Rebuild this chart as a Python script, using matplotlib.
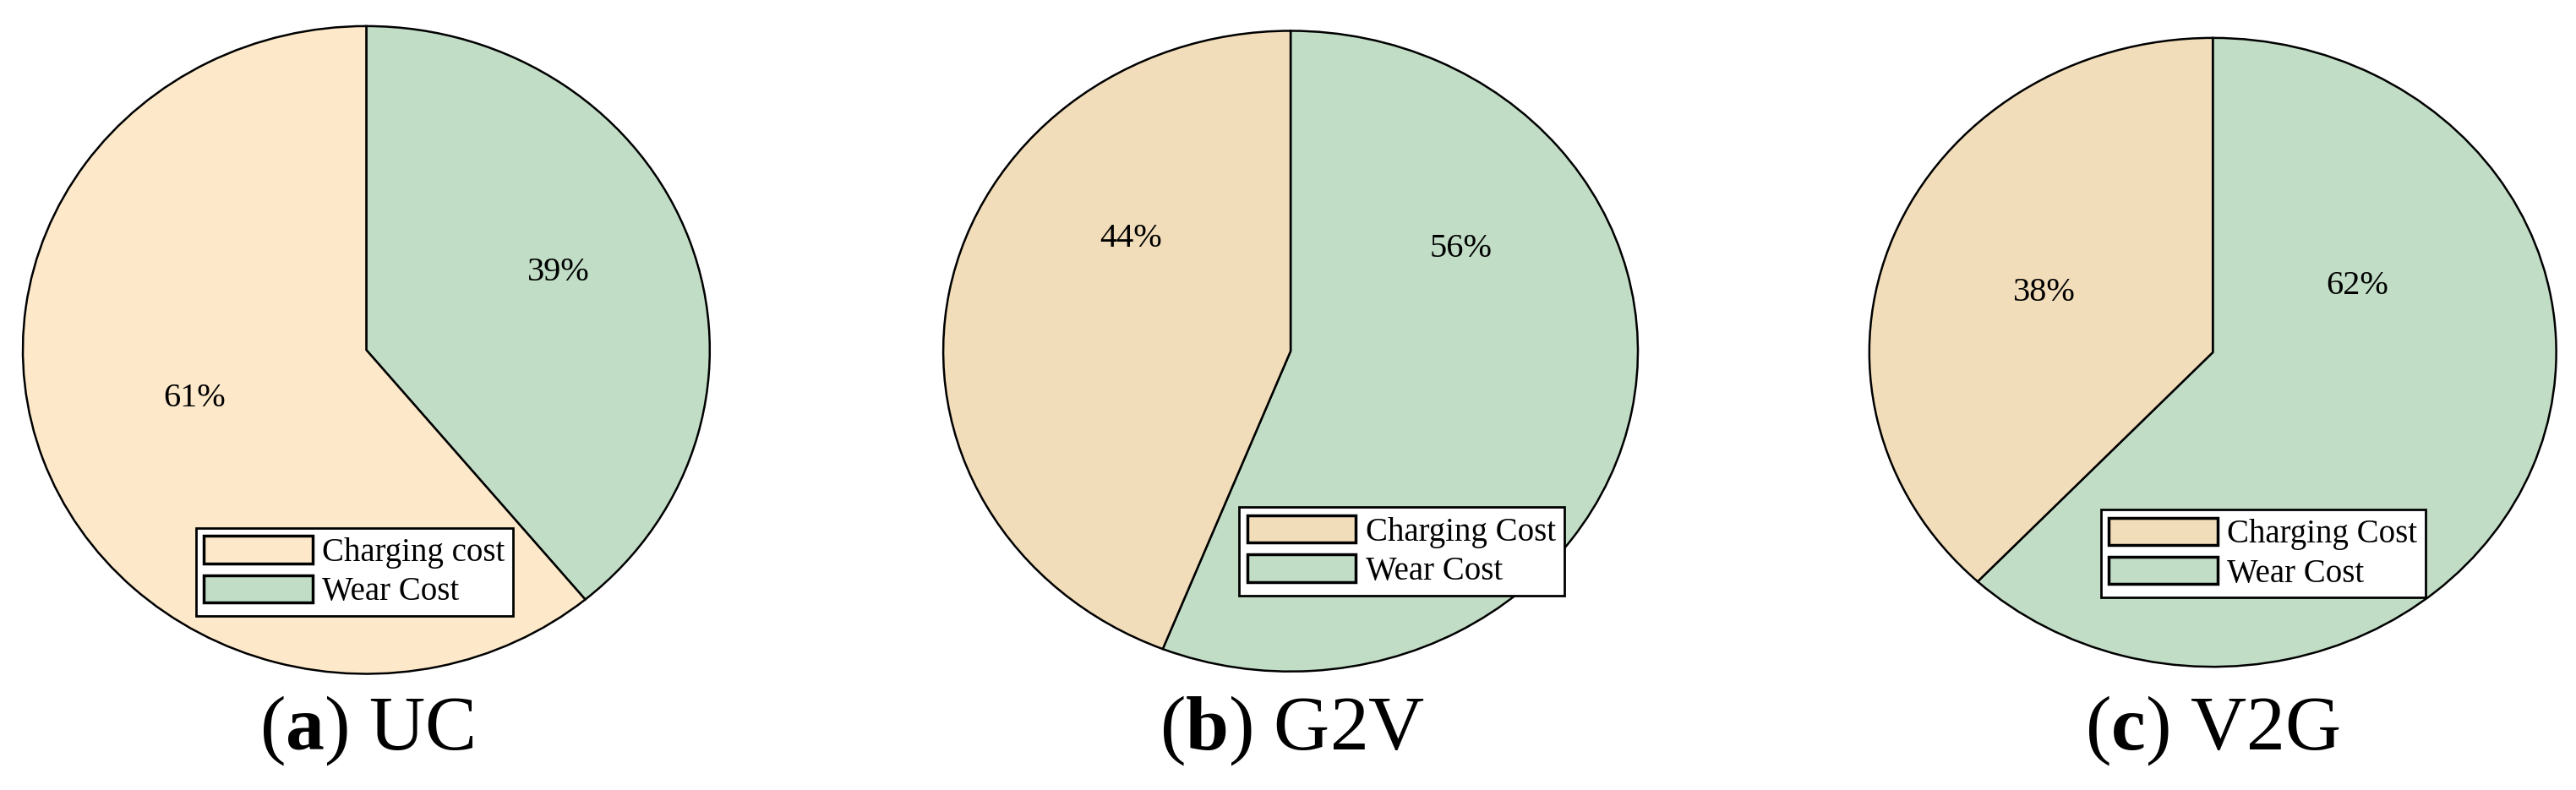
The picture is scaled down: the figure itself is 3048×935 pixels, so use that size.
import matplotlib.pyplot as plt
from matplotlib.patches import Patch

plt.rcParams['font.family'] = ['Liberation Serif', 'DejaVu Serif']
plt.rcParams['mathtext.fontset'] = 'custom'
plt.rcParams['mathtext.rm'] = 'Liberation Serif'
plt.rcParams['mathtext.bf'] = 'Liberation Serif:bold'

# data per scenario: (charging %, wear %)
scenarios = ['UC', 'G2V', 'V2G']
letters = ['a', 'b', 'c']
charging = [61, 44, 38]
wear = [39, 56, 62]
legend_labels = [['Charging cost', 'Wear Cost'],
                 ['Charging Cost', 'Wear Cost'],
                 ['Charging Cost', 'Wear Cost']]
charge_colors = ['#fde9ca', '#f2ddba', '#f2ddba']
wear_color = '#c1ddc6'

# axes rectangles (figure fraction), label spots, legend anchors
rects = [[0.0082, 0.145, 0.268, 0.824],
         [0.3655, 0.148, 0.271, 0.815],
         [0.725, 0.154, 0.268, 0.800]]
wear_pos = [(0.56, 0.24), (0.49, 0.32), (0.42, 0.21)]
charge_pos = [(-0.50, -0.15), (-0.46, 0.35), (-0.49, 0.19)]
leg_anchor = [(0.076, 0.332), (0.481, 0.358), (0.8155, 0.355)]
cap_x = [0.1425, 0.5015, 0.859]

fig = plt.figure(figsize=(30.48, 9.35), dpi=100)
for i in range(3):
    ax = fig.add_axes(rects[i])
    cols = [wear_color, charge_colors[i]]
    wedges, _, autos = ax.pie([wear[i], charging[i]], startangle=90, counterclock=False,
                              colors=cols, autopct='%d%%',
                              wedgeprops=dict(edgecolor='black', linewidth=1.8),
                              textprops=dict(fontsize=29))
    autos[0].set_position(wear_pos[i])
    autos[1].set_position(charge_pos[i])
    ax.set_aspect('auto')
    ax.set_xlim(-1.005, 1.005)
    ax.set_ylim(-1.005, 1.005)
    handles = [Patch(facecolor=charge_colors[i], edgecolor='black', linewidth=2.5),
               Patch(facecolor=wear_color, edgecolor='black', linewidth=2.5)]
    fig.legend(handles, legend_labels[i], loc='upper left',
               bbox_to_anchor=leg_anchor[i], fontsize=28, fancybox=False,
               edgecolor='black', framealpha=1, borderpad=0.25,
               handlelength=3.3, handleheight=0.9, handletextpad=0.3,
               labelspacing=0.2, borderaxespad=0).get_frame().set_linewidth(2)
    fig.text(cap_x[i], 0.075, r'($\mathbf{' + letters[i] + r'}$) ' + scenarios[i],
             ha='center', va='center', fontsize=66)

fig.savefig('out.png', dpi=100)
